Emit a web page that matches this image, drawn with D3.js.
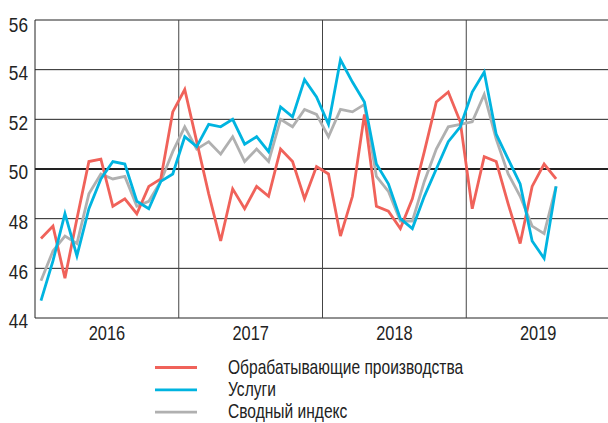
<!DOCTYPE html>
<html>
<head>
<meta charset="utf-8">
<script src="https://cdn.jsdelivr.net/npm/d3@7"></script>
<style>
  body { margin: 0; background: #fff; }
  svg { display: block; font-family: "Liberation Sans", Arial, sans-serif; }
</style>
</head>
<body>
<svg id="chart" width="608" height="423"></svg>
<script>
// monthly PMI, Jan 2016 .. Aug 2019
const years = ['2016', '2017', '2018', '2019']
const yTicks = [44, 46, 48, 50, 52, 54, 56]

const manufacturing = [
  47.2, 47.7, 45.6, 48.0, 50.3, 50.4, 48.5, 48.8, 48.2, 49.3, 49.6, 52.3,
  53.2, 51.1, 49.0, 47.1, 49.2, 48.4, 49.3, 48.9, 50.8, 50.3, 48.8, 50.1,
  49.8, 47.3, 48.9, 52.2, 48.5, 48.3, 47.6, 48.8, 50.7, 52.7, 53.1, 51.9,
  48.4, 50.5, 50.3, 48.6, 47.0, 49.3, 50.2, 49.6
]
const services = [
  44.7, 46.3, 48.2, 46.5, 48.4, 49.6, 50.3, 50.2, 48.7, 48.4, 49.5, 49.8,
  51.3, 50.9, 51.8, 51.7, 52.0, 51.0, 51.3, 50.7, 52.5, 52.1, 53.6, 52.9,
  51.8, 54.4, 53.5, 52.7, 50.2, 49.4, 48.0, 47.6, 48.9, 50.0, 51.1, 51.7,
  53.1, 53.9, 51.4, 50.4, 49.4, 47.1, 46.4, 49.3
]
const composite = [
  45.5, 46.7, 47.3, 47.0, 49.0, 49.8, 49.6, 49.7, 48.5, 48.7, 49.5, 50.7,
  51.7, 50.8, 51.1, 50.6, 51.3, 50.3, 50.8, 50.3, 52.0, 51.7, 52.4, 52.2,
  51.3, 52.4, 52.3, 52.6, 49.7, 49.1, 47.9, 47.9, 49.5, 50.8, 51.7, 51.8,
  51.9, 53.0, 51.2, 49.8, 48.9, 47.7, 47.4, 49.3
]
const seriesNames = ['Обрабатывающие производства', 'Услуги', 'Сводный индекс']
const seriesColors = ['#f0625a', '#00b4e0', '#b0b0b0']

const svg = d3.select('#chart')
const margin = {left: 35, right: -2, top: 20, bottom: 105}
const width = 608 - margin.left - margin.right
const height = 423 - margin.top - margin.bottom

const months = d3.range(years.length * 12)
const x = d3.scaleBand().domain(months).range([margin.left, margin.left + width])
const xYear = d3.scaleBand().domain(years).range([margin.left, margin.left + width])
const y = d3.scaleLinear().domain([44, 56]).range([margin.top + height, margin.top])

// no narrow font installed, so squeeze regular one
function narrowText(sel, px, py, k = 0.82) {
  sel.attr('transform', (d, i) => `translate(${px(d, i)},${py(d, i)}) scale(${k},1)`)
}

// horizontal grid
svg.append('g')
  .selectAll('line')
  .data(yTicks)
  .join('line')
  .attr('x1', margin.left)
  .attr('x2', 608)
  .attr('y1', d => y(d))
  .attr('y2', d => y(d))
  .attr('stroke', '#222')
  .attr('stroke-width', d => d == 50 ? 2.2 : 1)

// year separators
svg.append('g')
  .selectAll('line')
  .data(years.slice(1))
  .join('line')
  .attr('x1', d => xYear(d))
  .attr('x2', d => xYear(d))
  .attr('y1', y(56))
  .attr('y2', y(44))
  .attr('stroke', '#444')
  .attr('stroke-width', 1)

svg.append('line')
  .attr('x1', margin.left).attr('x2', margin.left)
  .attr('y1', y(56)).attr('y2', y(44))
  .attr('stroke', '#222')

// y labels
svg.append('g')
  .selectAll('text')
  .data(yTicks)
  .join('text')
  .attr('dy', '0.35em')
  .attr('text-anchor', 'end')
  .attr('font-size', 21)
  .attr('fill', '#222')
  .text(d => d)
  .call(narrowText, () => 28, d => y(d) + (d == 56 ? 5 : 3))

// year labels
svg.append('g')
  .selectAll('text')
  .data(years)
  .join('text')
  .attr('dy', '0.35em')
  .attr('text-anchor', 'middle')
  .attr('font-size', 20)
  .attr('fill', '#222')
  .text(d => d)
  .call(narrowText, d => xYear(d) + xYear.bandwidth() / 2, () => 333)

const line = d3.line()
  .x((d, i) => x(i) + x.bandwidth() / 2)
  .y(d => y(d))

const allSeries = [manufacturing, services, composite]
// draw composite first so it sits underneath
const drawOrder = [2, 0, 1]
drawOrder.forEach(k => {
  svg.append('path')
    .datum(allSeries[k])
    .attr('d', line)
    .attr('fill', 'none')
    .attr('stroke', seriesColors[k])
    .attr('stroke-width', 2.8)
    .attr('stroke-linejoin', 'miter')
})

// legend
const legend = svg.append('g')
seriesNames.forEach((name, i) => {
  const ly = 366.5 + i * 22.3
  legend.append('line')
    .attr('x1', 155).attr('x2', 197)
    .attr('y1', ly + 1).attr('y2', ly + 1)
    .attr('stroke', seriesColors[i])
    .attr('stroke-width', 2.8)
  legend.append('text')
    .datum(name)
    .attr('dy', '0.35em')
    .attr('font-size', 20.5)
    .attr('fill', '#222')
    .text(name)
    .call(narrowText, () => 228, () => ly, 0.76)
})
</script>
</body>
</html>
